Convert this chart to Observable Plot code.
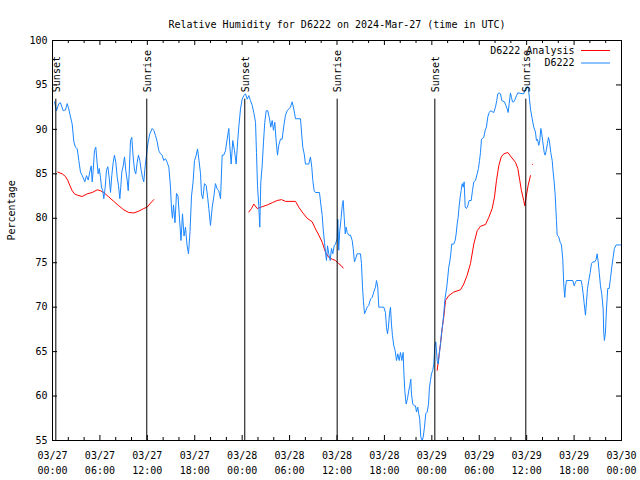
<!DOCTYPE html>
<html>
<head>
<meta charset="utf-8">
<script src="https://cdn.jsdelivr.net/npm/d3@7"></script>
<script src="https://cdn.jsdelivr.net/npm/@observablehq/plot@0.6"></script>
<style>
  html, body { margin: 0; padding: 0; background: #fff; }
  svg { font-family: "DejaVu Sans Mono", monospace; }
</style>
</head>
<body>
<div id="chart"></div>
<script>
// ---- Data (time in hours since 03/27 00:00 UTC) ----
const titleText = "Relative Humidity for D6222 on 2024-Mar-27 (time in UTC)";
const yLabel = "Percentage";
const seriesNames = ["D6222 Analysis", "D6222"];

const xTicks = [0, 6, 12, 18, 24, 30, 36, 42, 48, 54, 60, 66, 72];
const xTickLabels = ["03/27\n00:00","03/27\n06:00","03/27\n12:00","03/27\n18:00",
  "03/28\n00:00","03/28\n06:00","03/28\n12:00","03/28\n18:00",
  "03/29\n00:00","03/29\n06:00","03/29\n12:00","03/29\n18:00","03/30\n00:00"];
const xMinorTicks = [2,4,8,10,14,16,20,22,26,28,32,34,38,40,44,46,50,52,56,58,62,64,68,70];
const yTicks = [55, 60, 65, 70, 75, 80, 85, 90, 95, 100];

const sunEventTimes = [0.42, 11.93, 24.33, 36.02, 48.38, 59.89];
const sunEventNames = ["Sunset", "Sunrise", "Sunset", "Sunrise", "Sunset", "Sunrise"];
const sunLineTop = 93.4;

const obsTime = [0.25,0.51,0.80,1.01,1.35,1.64,1.86,2.06,2.28,2.49,2.70,2.91,3.13,3.33,3.54,3.76,3.96,4.09,4.30,4.52,4.72,4.90,5.02,5.15,5.31,5.48,5.66,5.78,5.91,6.07,6.20,6.36,6.49,6.67,6.83,7.00,7.17,7.34,7.50,7.68,7.84,8.01,8.19,8.35,8.52,8.64,8.77,8.95,9.11,9.27,9.45,9.58,9.70,9.87,10.03,10.21,10.38,10.54,10.72,10.88,11.05,11.22,11.39,11.55,11.73,11.89,11.98,12.11,12.31,12.62,12.82,13.03,13.25,13.45,13.67,13.88,14.08,14.30,14.51,14.72,14.93,15.06,15.18,15.31,15.50,15.69,15.88,16.07,16.26,16.45,16.64,16.83,17.02,17.21,17.40,17.59,17.78,17.97,18.16,18.35,18.54,18.73,
18.85,19.02,19.23,19.45,19.65,19.78,19.99,20.21,20.41,20.62,20.84,21.04,21.26,21.47,21.67,21.89,22.10,22.31,22.43,22.61,22.81,23.03,23.24,23.45,23.57,23.79,24.00,24.21,24.42,24.64,24.84,25.05,25.27,25.47,25.69,25.81,25.94,26.10,26.23,26.36,26.53,26.70,26.86,27.04,27.24,27.46,27.62,27.80,27.96,28.13,28.31,28.47,28.63,28.85,29.06,29.27,29.48,29.70,29.90,30.11,30.33,30.53,30.75,31.38,31.51,31.67,31.85,32.01,32.43,32.64,32.81,32.94,33.11,33.28,33.78,33.95,34.13,34.25,34.42,34.54,34.67,34.80,34.96,35.14,35.30,35.47,35.64,35.81,36.02,36.10,36.22,36.35,36.53,36.66,36.78,36.91,37.04,37.16,37.29,37.49,37.71,37.92,38.05,38.21,38.34,38.55,38.97,39.10,39.23,39.35,39.48,39.64,39.82,40.02,40.24,40.45,40.65,40.87,41.00,41.16,41.29,41.92,42.13,42.26,42.39,42.51,42.64,42.77,42.89,43.02,43.18,43.36,43.53,43.69,43.87,44.03,44.20,44.37,44.45,44.58,44.75,44.92,45.08,45.21,45.34,45.42,45.59,45.77,45.93,46.06,46.22,46.35,46.47,46.60,46.78,46.91,47.07,47.23,47.41,47.58,47.70,47.83,47.95,48.12,48.25,48.37,48.50,48.68,48.81,48.93,
49.10,49.22,49.35,49.51,49.64,49.76,49.89,50.02,50.14,50.27,50.40,50.52,50.78,50.95,51.08,51.21,51.33,51.46,51.59,51.71,51.84,51.97,52.09,52.22,52.38,52.55,52.72,52.98,53.14,53.31,53.52,53.74,53.90,54.03,54.16,54.28,54.57,54.75,54.91,55.08,55.26,55.42,55.84,56.05,56.22,56.34,56.52,56.69,56.85,57.19,57.36,57.54,57.66,57.79,57.95,58.08,58.20,58.37,58.55,58.71,58.88,59.63,59.76,59.94,60.19,60.36,60.48,60.70,60.90,61.11,61.24,61.37,61.53,61.66,61.79,61.91,62.04,62.22,62.34,62.47,62.63,62.76,62.89,63.05,63.23,63.35,63.48,63.61,63.77,63.86,64.06,64.24,64.40,64.57,64.69,64.82,64.91,65.04,65.84,66.01,66.18,66.30,66.90,67.02,67.15,67.28,67.44,67.57,67.70,67.86,68.04,68.20,68.37,68.62,68.80,68.92,69.05,69.18,69.34,69.50,69.68,69.75,69.84,69.97,70.10,70.26,70.44,70.60,70.77,70.94,71.10,71.32,72.00];
const obsValue = [93.1,92.1,92.9,93.0,92.1,92.2,92.9,92.3,91.4,90.6,88.6,88.0,87.8,86.5,85.2,84.8,84.4,84.1,84.8,84.3,85.2,85.9,84.1,85.4,87.6,88.0,86.1,85.0,85.6,84.6,83.5,83.1,82.2,83.5,85.4,85.8,84.6,82.9,84.8,86.3,87.1,86.3,84.6,83.7,82.2,83.5,85.2,85.9,86.9,85.4,84.3,83.1,85.0,88.75,89.1,86.9,85.4,85.0,86.3,87.1,86.5,85.4,84.6,84.1,85.9,87.1,87.8,88.6,89.5,90.1,89.9,89.3,88.6,87.6,87.25,87.1,86.5,86.7,86.3,85.75,83.5,81.0,80.0,81.5,79.5,82.8,82.5,80.0,77.5,80.5,78.0,79.0,77.0,76.0,78.5,82.5,84.0,86.5,87.0,87.8,86.5,85.0,
82.75,82.2,83.9,83.7,82.2,81.1,79.2,81.25,82.4,83.9,83.3,83.1,82.2,87.1,87.1,87.6,88.9,90.1,88.2,86.1,88.75,87.6,86.1,88.9,90.25,92.3,93.4,93.8,94.0,93.4,93.8,93.25,92.7,91.9,90.8,87.4,83.7,81.4,79.0,84.1,85.9,88.6,90.8,92.1,92.1,91.2,90.25,91.0,89.9,90.8,88.6,87.1,88.2,88.9,88.9,90.4,91.6,92.1,92.3,92.5,93.1,92.3,91.2,91.2,89.7,88.0,87.25,86.1,86.1,86.9,85.75,84.25,83.1,82.9,82.9,81.6,80.3,78.8,77.3,76.2,75.25,76.9,76.0,75.25,76.6,76.0,76.9,77.1,77.7,79.9,76.4,78.6,80.1,81.4,82.0,80.1,78.25,79.0,78.4,78.1,78.1,77.5,76.6,75.1,75.4,76.0,76.0,74.9,72.25,70.6,69.25,69.6,70.0,70.2,70.9,71.1,71.7,72.25,73.0,72.25,70.0,70.0,69.4,67.75,67.0,67.75,69.25,70.0,68.1,66.8,65.7,65.1,64.0,64.75,64.0,64.9,64.0,64.9,62.9,60.6,59.1,59.7,60.6,61.2,61.9,60.25,59.1,58.9,58.9,58.2,58.75,58.0,57.4,55.4,55.0,55.4,56.5,58.0,58.2,59.1,61.0,61.75,62.5,62.9,63.6,65.5,66.1,64.0,63.6,64.6,
65.9,67.0,67.9,69.25,70.75,71.5,72.25,73.4,74.5,75.1,76.0,77.1,77.1,77.5,78.25,79.4,80.1,81.4,82.4,83.1,83.9,83.5,84.1,81.25,81.1,81.4,82.0,82.0,83.1,84.1,84.25,85.0,85.6,86.5,87.4,88.9,89.1,89.9,90.25,91.4,91.9,92.1,91.9,92.5,93.25,94.0,94.1,94.0,93.25,93.1,92.7,92.3,91.9,92.9,94.1,93.6,93.1,93.1,93.4,93.8,94.1,94.0,94.4,94.75,94.8,93.4,92.3,91.2,90.25,89.7,88.75,88.9,88.2,88.75,90.1,89.5,88.6,87.4,87.1,87.6,88.4,89.1,88.6,87.4,86.5,85.2,84.1,82.6,79.75,78.1,77.9,77.3,77.0,75.4,72.6,71.1,72.25,73.0,73.0,72.4,72.8,73.0,73.0,72.4,71.5,70.4,69.1,70.6,72.1,73.0,73.9,74.9,75.1,75.1,75.4,76.0,75.1,73.9,72.4,71.5,69.8,67.2,66.25,67.2,69.8,72.1,72.1,73.2,74.5,75.6,76.6,77.0,77.0];

const anaSegment = [1,1,1,1,1,1,1,1,1,1,1,1,1,1,1,1,1,1,1,1,1,1,1,1,1,
  2,2,2,2,2,2,2,2,2,2,2,2,2,2,2,2,2,2,2,2,2,2,2,2,2,
  3,3,3,3,3,3,3,3,3,3,3,3,3,3,3,3,3,3,3,3,3,3,3,3,3,3,3,3,3,3,3,3,3,3];
const anaTime = [0.67,1.23,1.64,1.94,2.19,2.49,2.78,3.13,3.76,4.39,5.02,5.66,6.07,6.49,7.12,7.76,8.39,9.02,9.65,10.29,10.92,11.55,11.98,12.40,12.82,
  24.84,25.18,25.47,25.90,26.53,27.17,27.80,28.43,28.98,29.48,30.75,31.16,31.59,32.23,32.86,33.28,33.70,34.13,34.54,34.96,35.39,35.81,36.22,36.50,36.78,
  48.68,48.88,49.10,49.31,49.51,49.73,50.14,50.78,51.62,52.04,52.47,52.89,53.31,53.74,54.16,54.79,55.21,55.64,55.93,56.18,56.47,56.78,57.11,57.62,58.04,58.58,58.88,59.13,59.34,59.63,59.76,59.97,60.19,60.48,60.73];
const anaValue = [85.2,85.0,84.7,84.25,83.7,83.1,82.75,82.6,82.45,82.75,82.9,83.2,83.1,82.9,82.4,81.9,81.4,80.95,80.65,80.6,80.8,81.1,81.25,81.7,82.1,
  80.7,81.1,81.6,81.1,81.3,81.5,81.75,82.0,82.1,81.9,81.9,81.25,80.7,80.0,79.6,78.8,78.1,77.3,76.2,75.6,75.4,75.25,74.9,74.7,74.4,
  62.9,64.4,65.9,67.6,68.9,70.75,71.3,71.7,71.95,72.6,73.6,74.9,77.1,78.6,79.1,79.3,80.1,81.1,82.4,84.25,85.9,86.9,87.25,87.4,86.9,86.3,85.6,84.25,83.1,82.0,81.4,82.6,83.7,84.8,86.05];

// ---- Build tables ----
const obs = obsTime.map((t, i) => ({t, v: obsValue[i]}));
const ana = anaTime.map((t, i) => ({t, v: anaValue[i], seg: anaSegment[i]}));
const sun = sunEventTimes.map((t, i) => ({t, name: sunEventNames[i]}));

// ---- Layout / style ----
const W = 640, H = 480, mL = 52, mR = 19, mT = 40, mB = 40;
const xDom = [0, 72], yDom = [55, 100];
const hPerPx = (xDom[1] - xDom[0]) / (W - mL - mR);
const vPerPx = (yDom[1] - yDom[0]) / (H - mT - mB);
const RED = "#ff0000", BLUE = "#1a86ff";
const FONT = 10;

const legend = seriesNames.map((name, i) => ({
  name, color: i === 0 ? RED : BLUE,
  y: yDom[1] - (10 + 12.5 * i) * vPerPx,
  xt: xDom[1] - 47 * hPerPx,
  x1: xDom[1] - 40 * hPerPx,
  x2: xDom[1] - 11 * hPerPx
}));

const majorLen = 5, minorLen = 3, yTickLen = 5;

const plot = Plot.plot({
  width: W, height: H,
  marginLeft: mL, marginRight: mR, marginTop: mT, marginBottom: mB,
  style: {fontFamily: "'DejaVu Sans Mono', monospace", fontSize: FONT + "px", background: "#fff"},
  x: {domain: xDom, axis: null},
  y: {domain: yDom, axis: null},
  marks: [
    // ticks (inward, mirrored)
    Plot.ruleX(xTicks, {x: d => d, y1: yDom[0], y2: yDom[0] + majorLen * vPerPx, stroke: "#000"}),
    Plot.ruleX(xTicks, {x: d => d, y1: yDom[1], y2: yDom[1] - majorLen * vPerPx, stroke: "#000"}),
    Plot.ruleX(xMinorTicks, {x: d => d, y1: yDom[0], y2: yDom[0] + minorLen * vPerPx, stroke: "#000"}),
    Plot.ruleX(xMinorTicks, {x: d => d, y1: yDom[1], y2: yDom[1] - minorLen * vPerPx, stroke: "#000"}),
    Plot.ruleY(yTicks, {y: d => d, x1: xDom[0], x2: xDom[0] + yTickLen * hPerPx, stroke: "#000"}),
    Plot.ruleY(yTicks, {y: d => d, x1: xDom[1], x2: xDom[1] - yTickLen * hPerPx, stroke: "#000"}),
    // tick labels
    Plot.text(xTicks, {x: d => d, text: (d, i) => xTickLabels[i], frameAnchor: "bottom", dy: 8,
      lineAnchor: "top", lineHeight: 1.5, fill: "#000", fontSize: FONT}),
    Plot.text(yTicks, {y: d => d, text: d => String(d), frameAnchor: "left", dx: -5,
      textAnchor: "end", fill: "#000", fontSize: FONT}),
    // title and axis label
    Plot.text([titleText], {text: d => d, frameAnchor: "top", dy: -20, fill: "#000", fontSize: FONT}),
    Plot.text([yLabel], {text: d => d, frameAnchor: "left", dx: -41, rotate: -90, fill: "#000", fontSize: FONT}),
    // data
    Plot.line(ana, {x: "t", y: "v", z: "seg", stroke: RED, strokeWidth: 1}),
    Plot.line(obs, {x: "t", y: "v", stroke: BLUE, strokeWidth: 1}),
    // sunrise / sunset markers
    Plot.ruleX(sun, {x: "t", y1: yDom[0], y2: sunLineTop, stroke: "#000", strokeWidth: 1}),
    Plot.text(sun, {x: "t", y: sunLineTop + 7 * vPerPx, text: "name", rotate: -90, textAnchor: "start",
      lineAnchor: "middle", dx: 1, fill: "#000", fontSize: FONT}),
    // legend
    Plot.text(legend, {x: "xt", y: "y", text: "name", textAnchor: "end", fill: "#000", fontSize: FONT}),
    Plot.ruleY(legend, {y: "y", x1: "x1", x2: "x2", stroke: "color", strokeWidth: 1}),
    Plot.frame({stroke: "#000"})
  ]
});
document.getElementById("chart").appendChild(plot);
</script>
</body>
</html>
